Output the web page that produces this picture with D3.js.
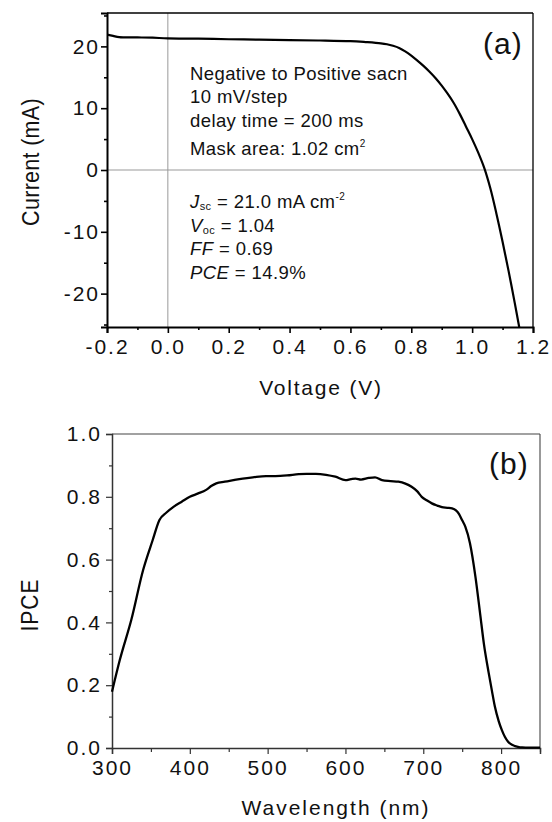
<!DOCTYPE html>
<html>
<head>
<meta charset="utf-8">
<script src="https://cdn.jsdelivr.net/npm/d3@7"></script>
<style>
  html, body { margin: 0; padding: 0; background: #fff; }
  svg { display: block; font-family: "Liberation Sans", Arial, sans-serif; }
</style>
</head>
<body>
<svg id="chart" width="552" height="822"></svg>
<script>
// ---------- Data ----------
// Panel (a): J-V curve
const jvVoltage = [-0.2, -0.18, -0.16, -0.1, -0.05, 0.0, 0.1, 0.2, 0.3, 0.4, 0.5, 0.6, 0.65, 0.7, 0.72, 0.74, 0.76, 0.78, 0.8, 0.82, 0.84, 0.86, 0.88, 0.9, 0.92, 0.94, 0.96, 0.98, 1.0, 1.02, 1.04, 1.06, 1.08, 1.10, 1.12, 1.14, 1.155];
const jvCurrent = [21.9, 21.7, 21.5, 21.45, 21.4, 21.3, 21.25, 21.15, 21.1, 21.0, 20.95, 20.85, 20.7, 20.5, 20.35, 20.1, 19.75, 19.2, 18.5, 17.7, 16.85, 15.9, 14.85, 13.65, 12.3, 10.8, 9.0, 7.0, 5.0, 2.8, 0.3, -3.0, -7.1, -11.6, -16.4, -21.5, -25.5];
const jvXTicks = [-0.2, 0.0, 0.2, 0.4, 0.6, 0.8, 1.0, 1.2];
const jvXMinor = [-0.1, 0.1, 0.3, 0.5, 0.7, 0.9, 1.1];
const jvYTicks = [-20, -10, 0, 10, 20];
const jvYMinor = [-25, -15, -5, 5, 15, 25];

// Panel (b): IPCE spectrum
const ipceWavelength = [300, 310, 325, 340, 352, 361, 370, 379, 390, 400, 410, 421, 428, 434, 445, 456, 468, 481, 498, 510, 525, 540, 550, 562, 575, 587, 600, 607, 613, 620, 630, 638, 647, 658, 668, 677, 685, 692, 698, 705, 711, 718, 724, 731, 737, 742, 746, 750, 754, 760, 767, 773, 778, 784, 788, 792, 797, 801, 805, 809, 814, 818, 823, 827, 835, 850];
const ipceValue = [0.179, 0.28, 0.41, 0.567, 0.66, 0.726, 0.75, 0.768, 0.785, 0.80, 0.81, 0.822, 0.835, 0.843, 0.848, 0.853, 0.858, 0.862, 0.866, 0.866, 0.868, 0.872, 0.873, 0.873, 0.87, 0.864, 0.853, 0.856, 0.858, 0.855, 0.86, 0.862, 0.853, 0.85, 0.848, 0.842, 0.832, 0.818, 0.80, 0.788, 0.779, 0.772, 0.767, 0.765, 0.763, 0.757, 0.745, 0.725, 0.705, 0.652, 0.546, 0.429, 0.33, 0.24, 0.185, 0.132, 0.085, 0.057, 0.035, 0.02, 0.01, 0.006, 0.003, 0.002, 0.001, 0.001];
const ipceXTicks = [300, 400, 500, 600, 700, 800];
const ipceXMinor = [350, 450, 550, 650, 750, 850];
const ipceYTicks = [0.0, 0.2, 0.4, 0.6, 0.8, 1.0];
const ipceYMinor = [0.1, 0.3, 0.5, 0.7, 0.9];

// Annotation texts
const scanInfo = ["Negative to Positive sacn", "10 mV/step", "delay time = 200 ms"];

const svg = d3.select("#chart");
const FONT = "'Liberation Sans', Arial, sans-serif";

// ---------- Panel (a) ----------
const A = {left: 107, right: 533, top: 13, bottom: 327};
const xA = d3.scaleLinear().domain([-0.2, 1.2]).range([A.left, A.right]);
const yA = d3.scaleLinear().domain([-25.4, 25.4]).range([A.bottom, A.top]);

svg.append("clipPath").attr("id", "clipA").append("rect")
  .attr("x", A.left).attr("y", A.top).attr("width", A.right - A.left).attr("height", A.bottom - A.top);

// zero lines
svg.append("line").attr("x1", xA(0)).attr("x2", xA(0)).attr("y1", A.top).attr("y2", A.bottom)
  .attr("stroke", "#999").attr("stroke-width", 1);
svg.append("line").attr("x1", A.left).attr("x2", A.right).attr("y1", yA(0)).attr("y2", yA(0))
  .attr("stroke", "#999").attr("stroke-width", 1);

// frame top/right
svg.append("line").attr("x1", A.left).attr("x2", A.right).attr("y1", A.top).attr("y2", A.top)
  .attr("stroke", "#000").attr("stroke-width", 1.3);
svg.append("line").attr("x1", A.right).attr("x2", A.right).attr("y1", A.top).attr("y2", A.bottom)
  .attr("stroke", "#000").attr("stroke-width", 1.3);

function styleAxis(g, width, color, size) {
  g.select(".domain").attr("stroke", color).attr("stroke-width", width);
  g.selectAll(".tick line").attr("stroke", color).attr("stroke-width", width * 0.8);
  g.selectAll(".tick text").attr("font-size", size).attr("fill", "#111")
    .attr("font-family", FONT).attr("letter-spacing", "2px");
}

// x axis (a)
const gxA = svg.append("g").attr("transform", `translate(0,${A.bottom})`)
  .call(d3.axisBottom(xA).tickValues(jvXTicks).tickSize(6).tickPadding(6).tickFormat(d => d.toFixed(1)));
styleAxis(gxA, 2, "#000", 21);
const gxAm = svg.append("g").attr("transform", `translate(0,${A.bottom})`)
  .call(d3.axisBottom(xA).tickValues(jvXMinor).tickSize(3).tickFormat(""));
gxAm.select(".domain").remove();
gxAm.selectAll(".tick line").attr("stroke", "#000").attr("stroke-width", 1.6);

// y axis (a)
const gyA = svg.append("g").attr("transform", `translate(${A.left},0)`)
  .call(d3.axisLeft(yA).tickValues(jvYTicks).tickSize(6).tickPadding(1).tickFormat(d => String(d)));
styleAxis(gyA, 2, "#000", 21);
const gyAm = svg.append("g").attr("transform", `translate(${A.left},0)`)
  .call(d3.axisLeft(yA).tickValues(jvYMinor).tickSize(3).tickFormat(""));
gyAm.select(".domain").remove();
gyAm.selectAll(".tick line").attr("stroke", "#000").attr("stroke-width", 1.6);

// curve (a)
const lineA = d3.line().x((d, i) => xA(jvVoltage[i])).y((d, i) => yA(jvCurrent[i])).curve(d3.curveCatmullRom.alpha(0.5));
svg.append("path").datum(jvVoltage).attr("d", lineA)
  .attr("clip-path", "url(#clipA)")
  .attr("fill", "none").attr("stroke", "#000").attr("stroke-width", 2.2);

// axis titles (a)
svg.append("text").attr("x", 321).attr("y", 395).attr("text-anchor", "middle")
  .attr("font-size", 21).attr("letter-spacing", "1.8px").attr("fill", "#111").text("Voltage (V)");
svg.append("text").attr("transform", "translate(39,162) rotate(-90) scale(1,1.15)").attr("text-anchor", "middle")
  .attr("font-size", 21.5).attr("letter-spacing", "0.3px").attr("fill", "#111").text("Current (mA)");

// panel label
svg.append("text").attr("x", 483).attr("y", 54).attr("font-size", 30).attr("letter-spacing", "1px")
  .attr("fill", "#111").text("(a)");

// annotations
const annoFont = 18.5;
const annoX = 190;
const infoY = [80, 103, 127];
scanInfo.forEach((t, i) => {
  svg.append("text").attr("x", annoX).attr("y", infoY[i]).attr("font-size", annoFont)
    .attr("letter-spacing", "0.4px").attr("fill", "#111").text(t);
});
const mask = svg.append("text").attr("x", annoX).attr("y", 155).attr("font-size", annoFont)
  .attr("letter-spacing", "0.4px").attr("fill", "#111");
mask.append("tspan").text("Mask area: 1.02 cm");
mask.append("tspan").attr("font-size", 10).attr("dy", -8).text("2");

const jsc = svg.append("text").attr("x", annoX).attr("y", 208).attr("font-size", annoFont)
  .attr("letter-spacing", "0.4px").attr("fill", "#111");
jsc.append("tspan").attr("font-style", "italic").text("J");
jsc.append("tspan").attr("font-size", 11).attr("dy", 2).text("sc");
jsc.append("tspan").attr("dy", -2).text(" = 21.0 mA cm");
jsc.append("tspan").attr("font-size", 10).attr("dy", -8).text("-2");

const voc = svg.append("text").attr("x", annoX).attr("y", 232).attr("font-size", annoFont)
  .attr("letter-spacing", "0.4px").attr("fill", "#111");
voc.append("tspan").attr("font-style", "italic").text("V");
voc.append("tspan").attr("font-size", 11).attr("dy", 2).text("oc");
voc.append("tspan").attr("dy", -2).text(" = 1.04");

const ff = svg.append("text").attr("x", annoX).attr("y", 255).attr("font-size", annoFont)
  .attr("letter-spacing", "0.4px").attr("fill", "#111");
ff.append("tspan").attr("font-style", "italic").text("FF");
ff.append("tspan").text(" = 0.69");

const pce = svg.append("text").attr("x", annoX).attr("y", 279).attr("font-size", annoFont)
  .attr("letter-spacing", "0.4px").attr("fill", "#111");
pce.append("tspan").attr("font-style", "italic").text("PCE");
pce.append("tspan").text(" = 14.9%");

// ---------- Panel (b) ----------
const B = {left: 112, right: 540, top: 434, bottom: 748};
const xB = d3.scaleLinear().domain([300, 850]).range([B.left, B.right]);
const yB = d3.scaleLinear().domain([0, 1]).range([B.bottom, B.top]);

svg.append("line").attr("x1", B.left).attr("x2", B.right).attr("y1", B.top).attr("y2", B.top)
  .attr("stroke", "#444").attr("stroke-width", 1.1);
svg.append("line").attr("x1", B.right).attr("x2", B.right).attr("y1", B.top).attr("y2", B.bottom)
  .attr("stroke", "#444").attr("stroke-width", 1.1);

const gxB = svg.append("g").attr("transform", `translate(0,${B.bottom})`)
  .call(d3.axisBottom(xB).tickValues(ipceXTicks).tickSize(6).tickPadding(6).tickFormat(d => String(d)));
styleAxis(gxB, 1.5, "#333", 21);
const gxBm = svg.append("g").attr("transform", `translate(0,${B.bottom})`)
  .call(d3.axisBottom(xB).tickValues(ipceXMinor).tickSize(4).tickFormat(""));
gxBm.select(".domain").remove();
gxBm.selectAll(".tick line").attr("stroke", "#333").attr("stroke-width", 1.2);

const gyB = svg.append("g").attr("transform", `translate(${B.left},0)`)
  .call(d3.axisLeft(yB).tickValues(ipceYTicks).tickSize(6).tickPadding(4).tickFormat(d => d.toFixed(1)));
styleAxis(gyB, 1.5, "#333", 21);
const gyBm = svg.append("g").attr("transform", `translate(${B.left},0)`)
  .call(d3.axisLeft(yB).tickValues(ipceYMinor).tickSize(3).tickFormat(""));
gyBm.select(".domain").remove();
gyBm.selectAll(".tick line").attr("stroke", "#333").attr("stroke-width", 1.2);

const lineB = d3.line().x((d, i) => xB(ipceWavelength[i])).y((d, i) => yB(ipceValue[i])).curve(d3.curveMonotoneX);
svg.append("path").datum(ipceWavelength).attr("d", lineB)
  .attr("fill", "none").attr("stroke", "#000").attr("stroke-width", 2.3);

svg.append("text").attr("x", 336).attr("y", 815).attr("text-anchor", "middle")
  .attr("font-size", 21).attr("letter-spacing", "2px").attr("fill", "#111").text("Wavelength (nm)");
svg.append("text").attr("transform", "translate(38,605) rotate(-90) scale(1,1.15)").attr("text-anchor", "middle")
  .attr("font-size", 21).attr("letter-spacing", "1px").attr("fill", "#111").text("IPCE");

svg.append("text").attr("x", 489).attr("y", 474).attr("font-size", 30).attr("letter-spacing", "1px")
  .attr("fill", "#111").text("(b)");
</script>
</body>
</html>
